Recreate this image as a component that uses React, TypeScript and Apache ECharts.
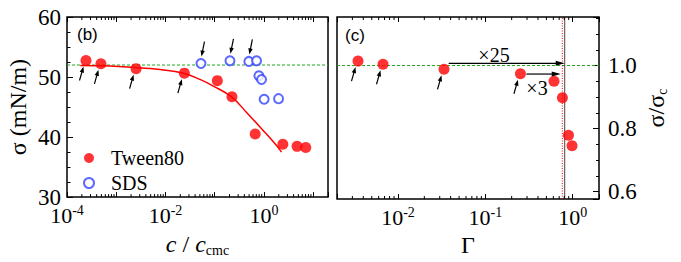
import React, { useEffect, useRef } from 'react';
import * as echarts from 'echarts';

// ---- data ----
const tweenConc = [2.43e-4, 4.89e-4, 2.53e-3, 0.0242, 0.113, 0.224, 0.664, 2.42, 4.71, 7.06];
const tweenSigma = [52.75, 52.2, 51.4, 50.65, 49.4, 46.7, 40.5, 38.8, 38.45, 38.25];
const sdsConc = [0.0526, 0.204, 0.494, 0.708, 0.789, 0.894, 1.01, 1.98];
const sdsSigma = [52.25, 52.7, 52.6, 52.7, 50.2, 49.6, 46.3, 46.4];
const fitConc = [1.86e-4, 4.73e-4, 2.42e-3, 7.78e-3, 0.0242, 0.0502, 0.0935, 0.22, 0.444, 0.964, 1.8, 2.28];
const fitSigma = [51.92, 51.87, 51.6, 51.26, 50.6, 49.6, 48.5, 46.7, 44.1, 41.1, 38.6, 37.5];
const gamma = [0.00348, 0.00673, 0.0336, 0.252, 0.611, 0.762, 0.894, 0.982];
const sigmaRatio = [1.014, 1.004, 0.988, 0.974, 0.95, 0.898, 0.779, 0.746];
const arrowedTween = [0, 1, 2, 3];
const arrowedSds = [0, 1, 2];
const arrowedGamma = [0, 1, 2, 3];
const sigmaC = 52;
const gammaRed = 0.76;
const gammaBlack = 0.81;
const bigArrowFrom = [0.038, 0.295];
const bigArrowTo = [0.81, 0.73];
const bigArrowLevel = [1.007, 0.973];
const sigmaMin = 30;
const sigmaMax = 60;
const concMin = 1e-4;
const concMax = 20;
const gammaMin = 0.002;
const gammaMax = 2;
const minorMultipliers = [2, 3, 4, 5, 6, 7, 8, 9];
const leftDecades = [-4, -3, -2, -1, 0, 1];
const rightDecades = [-3, -2, -1, 0];

const SERIF = 'Liberation Serif';
const SANS = 'Liberation Sans';
const GREEN = '#1fa81f';

function minorValues(decades: number[], lo: number, hi: number) {
  const out: number[] = [];
  decades.forEach((d) =>
    minorMultipliers.forEach((m) => {
      const v = m * Math.pow(10, d);
      if (v > lo * 1.0001 && v < hi * 0.9999) out.push(v);
    })
  );
  return out;
}

function arrow(x1: number, y1: number, x2: number, y2: number, head: number, half: number, lw: number) {
  const dx = x2 - x1;
  const dy = y2 - y1;
  const L = Math.hypot(dx, dy) || 1;
  const ux = dx / L;
  const uy = dy / L;
  const nx = -uy;
  const ny = ux;
  const bx = x2 - ux * head;
  const by = y2 - uy * head;
  return {
    type: 'group',
    children: [
      { type: 'line', shape: { x1, y1, x2: bx + ux, y2: by + uy }, style: { stroke: '#000', lineWidth: lw } },
      {
        type: 'polygon',
        shape: { points: [[x2, y2], [bx + nx * half, by + ny * half], [bx - nx * half, by - ny * half]] },
        style: { fill: '#000' },
      },
    ],
  };
}

const pow10Label = (every: number) => (v: number) => {
  const l = Math.log10(v);
  const e = Math.round(l);
  if (Math.abs(l - e) > 1e-6 || ((e % every) + every) % every !== 0) return '';
  return `{b|10}{p|${e}}`;
};

const tickRich = {
  b: { fontFamily: SERIF, fontSize: 22, lineHeight: 24, color: '#000' },
  p: { fontFamily: SERIF, fontSize: 14, lineHeight: 14, verticalAlign: 'top', color: '#000' },
};

export default function App() {
  const ref = useRef<HTMLDivElement>(null);
  useEffect(() => {
    if (!ref.current) return;
    const chart = echarts.init(ref.current, undefined, { renderer: 'svg' });
    const rMin = sigmaMin / sigmaC;
    const rMax = sigmaMax / sigmaC;

    const tickRender = (yLo: number, yHi: number) => (params: any, api: any) => {
      const v = api.value(0);
      const b = api.coord([v, yLo]);
      const t = api.coord([v, yHi]);
      return {
        type: 'group',
        children: [
          { type: 'line', shape: { x1: b[0], y1: b[1], x2: b[0], y2: b[1] - 3 }, style: { stroke: '#000', lineWidth: 1 } },
          { type: 'line', shape: { x1: t[0], y1: t[1], x2: t[0], y2: t[1] + 3 }, style: { stroke: '#000', lineWidth: 1 } },
        ],
      };
    };

    const belowArrow = (params: any, api: any) => {
      const p = api.coord([api.value(0), api.value(1)]);
      return arrow(p[0] - 6.5, p[1] + 20, p[0] - 2.5, p[1] + 6, 6, 2.2, 1.2);
    };
    const aboveArrow = (params: any, api: any) => {
      const p = api.coord([api.value(0), api.value(1)]);
      return arrow(p[0] + 3.5, p[1] - 22, p[0] + 0.5, p[1] - 7, 6, 2.2, 1.2);
    };
    const bigArrow = (params: any, api: any) => {
      const a = api.coord([api.value(0), api.value(1)]);
      const b = api.coord([api.value(2), api.value(1)]);
      return arrow(a[0], a[1], b[0], b[1], 9, 2.5, 1.2);
    };

    const xBase = {
      type: 'log',
      logBase: 10,
      splitLine: { show: false },
      axisLine: { show: false },
      axisTick: { show: true, inside: true, length: 5, lineStyle: { color: '#000', width: 1 } },
      minorTick: { show: false },
    };

    const refLine = (xi: number, yi: number, data: number[][], color: string, type: any, z: number) => ({
      type: 'line',
      xAxisIndex: xi,
      yAxisIndex: yi,
      data,
      showSymbol: false,
      symbol: 'none',
      silent: true,
      lineStyle: { color, type, width: 1 },
      z,
    });

    chart.setOption({
      animation: false,
      backgroundColor: '#fff',
      grid: [
        { left: 67, top: 17, width: 261, height: 182, show: true, borderColor: '#000', borderWidth: 1.5, containLabel: false },
        { left: 337, top: 17, width: 262, height: 182, show: true, borderColor: '#000', borderWidth: 1.5, containLabel: false },
      ],
      legend: {
        data: [{ name: 'Tween80' }, { name: 'SDS' }],
        orient: 'vertical',
        left: 78,
        top: 143,
        itemWidth: 34,
        itemHeight: 10,
        itemGap: 5,
        selectedMode: false,
        itemStyle: { borderWidth: 1 },
        textStyle: { fontFamily: SERIF, fontSize: 20, color: '#000' },
      },
      xAxis: [
        {
          ...xBase,
          gridIndex: 0,
          position: 'bottom',
          min: concMin,
          max: concMax,
          axisLabel: { formatter: pow10Label(2), rich: tickRich, margin: 6 },
          name: '{i|c} / {i|c}{s|cmc}',
          nameLocation: 'middle',
          nameGap: 32,
          nameTextStyle: {
            fontFamily: SERIF,
            fontSize: 24,
            lineHeight: 26,
            color: '#000',
            rich: {
              i: { fontFamily: SERIF, fontStyle: 'italic', fontSize: 24, lineHeight: 26, color: '#000' },
              s: { fontFamily: SERIF, fontSize: 14, lineHeight: 2, verticalAlign: 'bottom', color: '#000' },
            },
          },
        },
        { ...xBase, gridIndex: 0, position: 'top', min: concMin, max: concMax, axisLabel: { show: false } },
        {
          ...xBase,
          gridIndex: 1,
          position: 'bottom',
          min: gammaMin,
          max: gammaMax,
          axisLabel: { formatter: pow10Label(1), rich: tickRich, margin: 6 },
          name: 'Γ',
          nameLocation: 'middle',
          nameGap: 31,
          nameTextStyle: { fontFamily: SERIF, fontSize: 24, color: '#000' },
        },
        { ...xBase, gridIndex: 1, position: 'top', min: gammaMin, max: gammaMax, axisLabel: { show: false } },
      ],
      yAxis: [
        {
          type: 'value',
          gridIndex: 0,
          position: 'left',
          min: sigmaMin,
          max: sigmaMax,
          interval: 10,
          splitLine: { show: false },
          axisLine: { show: false },
          axisTick: { show: true, inside: true, length: 6, lineStyle: { color: '#000', width: 1 } },
          minorTick: { show: true, splitNumber: 4, length: 3.5, lineStyle: { color: '#000', width: 1 } },
          axisLabel: { fontFamily: SERIF, fontSize: 23, color: '#000', margin: 6 },
          name: 'σ (mN/m)',
          nameLocation: 'middle',
          nameRotate: 90,
          nameGap: 37,
          nameTextStyle: { fontFamily: SERIF, fontSize: 24, color: '#000' },
        },
        {
          type: 'value',
          gridIndex: 1,
          position: 'right',
          min: rMin,
          max: rMax,
          minInterval: 0.05,
          maxInterval: 0.05,
          splitLine: { show: false },
          axisLine: { show: false },
          axisTick: { show: true, inside: true, length: 3, lineStyle: { color: '#000', width: 1 } },
          axisLabel: {
            fontFamily: SERIF,
            fontSize: 23,
            color: '#000',
            margin: 9,
            formatter: (v: number) => (Math.abs(v * 5 - Math.round(v * 5)) < 1e-6 ? v.toFixed(1) : ''),
          },
          name: '{m|σ/σ}{s|c}',
          nameLocation: 'middle',
          nameRotate: 90,
          nameGap: 44,
          nameTextStyle: {
            fontFamily: SERIF,
            fontSize: 24,
            lineHeight: 26,
            color: '#000',
            rich: {
              m: { fontFamily: SERIF, fontSize: 24, lineHeight: 26, color: '#000' },
              s: { fontFamily: SERIF, fontSize: 14, lineHeight: 2, verticalAlign: 'bottom', color: '#000' },
            },
          },
        },
        {
          type: 'value',
          gridIndex: 1,
          position: 'right',
          min: rMin,
          max: rMax,
          minInterval: 0.2,
          maxInterval: 0.2,
          splitLine: { show: false },
          axisLine: { show: false },
          axisTick: { show: true, inside: true, length: 6, lineStyle: { color: '#000', width: 1 } },
          axisLabel: { show: false },
        },
      ],
      graphic: [
        { type: 'text', x: 77, y: 34, style: { text: '(b)', font: `17px "${SANS}"`, fill: '#000', align: 'left', verticalAlign: 'middle' } },
        { type: 'text', x: 345, y: 35, style: { text: '(c)', font: `17px "${SANS}"`, fill: '#000', align: 'left', verticalAlign: 'middle' } },
        { type: 'text', x: 494, y: 55, style: { text: '×25', font: `20px "${SERIF}"`, fill: '#000', align: 'center', verticalAlign: 'middle' } },
        { type: 'text', x: 537, y: 88, style: { text: '×3', font: `20px "${SERIF}"`, fill: '#000', align: 'center', verticalAlign: 'middle' } },
      ],
      series: [
        refLine(0, 0, [[concMin, sigmaC], [concMax, sigmaC]], GREEN, [3, 2], 1),
        refLine(2, 1, [[gammaMin, 1], [gammaMax, 1]], GREEN, [3, 2], 1),
        refLine(2, 1, [[gammaRed, rMin], [gammaRed, rMax]], '#ff0000', [1, 1.5], 1),
        refLine(2, 1, [[gammaBlack, rMin], [gammaBlack, rMax]], '#444444', 'solid', 1),
        {
          name: 'fit',
          type: 'line',
          xAxisIndex: 0,
          yAxisIndex: 0,
          data: fitConc.map((c, i) => [c, fitSigma[i]]),
          smooth: 0.4,
          showSymbol: false,
          symbol: 'none',
          lineStyle: { color: '#ff0000', width: 1.5 },
          z: 2,
          silent: true,
        },
        {
          name: 'Tween80',
          type: 'scatter',
          xAxisIndex: 0,
          yAxisIndex: 0,
          data: tweenConc.map((c, i) => [c, tweenSigma[i]]),
          symbol: 'circle',
          symbolSize: 11,
          itemStyle: { color: '#ff0000' },
          z: 3,
        },
        {
          name: 'SDS',
          type: 'scatter',
          xAxisIndex: 0,
          yAxisIndex: 0,
          data: sdsConc.map((c, i) => [c, sdsSigma[i]]),
          symbol: 'emptyCircle',
          symbolSize: 9,
          itemStyle: { color: '#3344ff', borderWidth: 1 },
          z: 3,
        },
        {
          name: 'ratio',
          type: 'scatter',
          xAxisIndex: 2,
          yAxisIndex: 1,
          data: gamma.map((g, i) => [g, sigmaRatio[i]]),
          symbol: 'circle',
          symbolSize: 11,
          itemStyle: { color: '#ff0000' },
          z: 3,
        },
        {
          type: 'custom',
          xAxisIndex: 0,
          yAxisIndex: 0,
          silent: true,
          data: arrowedTween.map((i) => [tweenConc[i], tweenSigma[i]]),
          renderItem: belowArrow,
          z: 4,
        },
        {
          type: 'custom',
          xAxisIndex: 0,
          yAxisIndex: 0,
          silent: true,
          data: arrowedSds.map((i) => [sdsConc[i], sdsSigma[i]]),
          renderItem: aboveArrow,
          z: 4,
        },
        {
          type: 'custom',
          xAxisIndex: 2,
          yAxisIndex: 1,
          silent: true,
          data: arrowedGamma.map((i) => [gamma[i], sigmaRatio[i]]),
          renderItem: belowArrow,
          z: 4,
        },
        {
          type: 'custom',
          xAxisIndex: 2,
          yAxisIndex: 1,
          silent: true,
          data: bigArrowFrom.map((f, i) => [f, bigArrowLevel[i], bigArrowTo[i]]),
          encode: { x: [0, 2], y: 1 },
          renderItem: bigArrow,
          z: 4,
        },
        {
          type: 'custom',
          xAxisIndex: 0,
          yAxisIndex: 0,
          silent: true,
          data: minorValues(leftDecades, concMin, concMax).map((v) => [v, sigmaMin]),
          renderItem: tickRender(sigmaMin, sigmaMax),
          z: 5,
        },
        {
          type: 'custom',
          xAxisIndex: 2,
          yAxisIndex: 1,
          silent: true,
          data: minorValues(rightDecades, gammaMin, gammaMax).map((v) => [v, rMin]),
          renderItem: tickRender(rMin, rMax),
          z: 5,
        },
      ],
    });
    return () => chart.dispose();
  }, []);
  return <div ref={ref} style={{ position: 'absolute', left: 0, top: 0, width: 681, height: 262 }} />;
}
